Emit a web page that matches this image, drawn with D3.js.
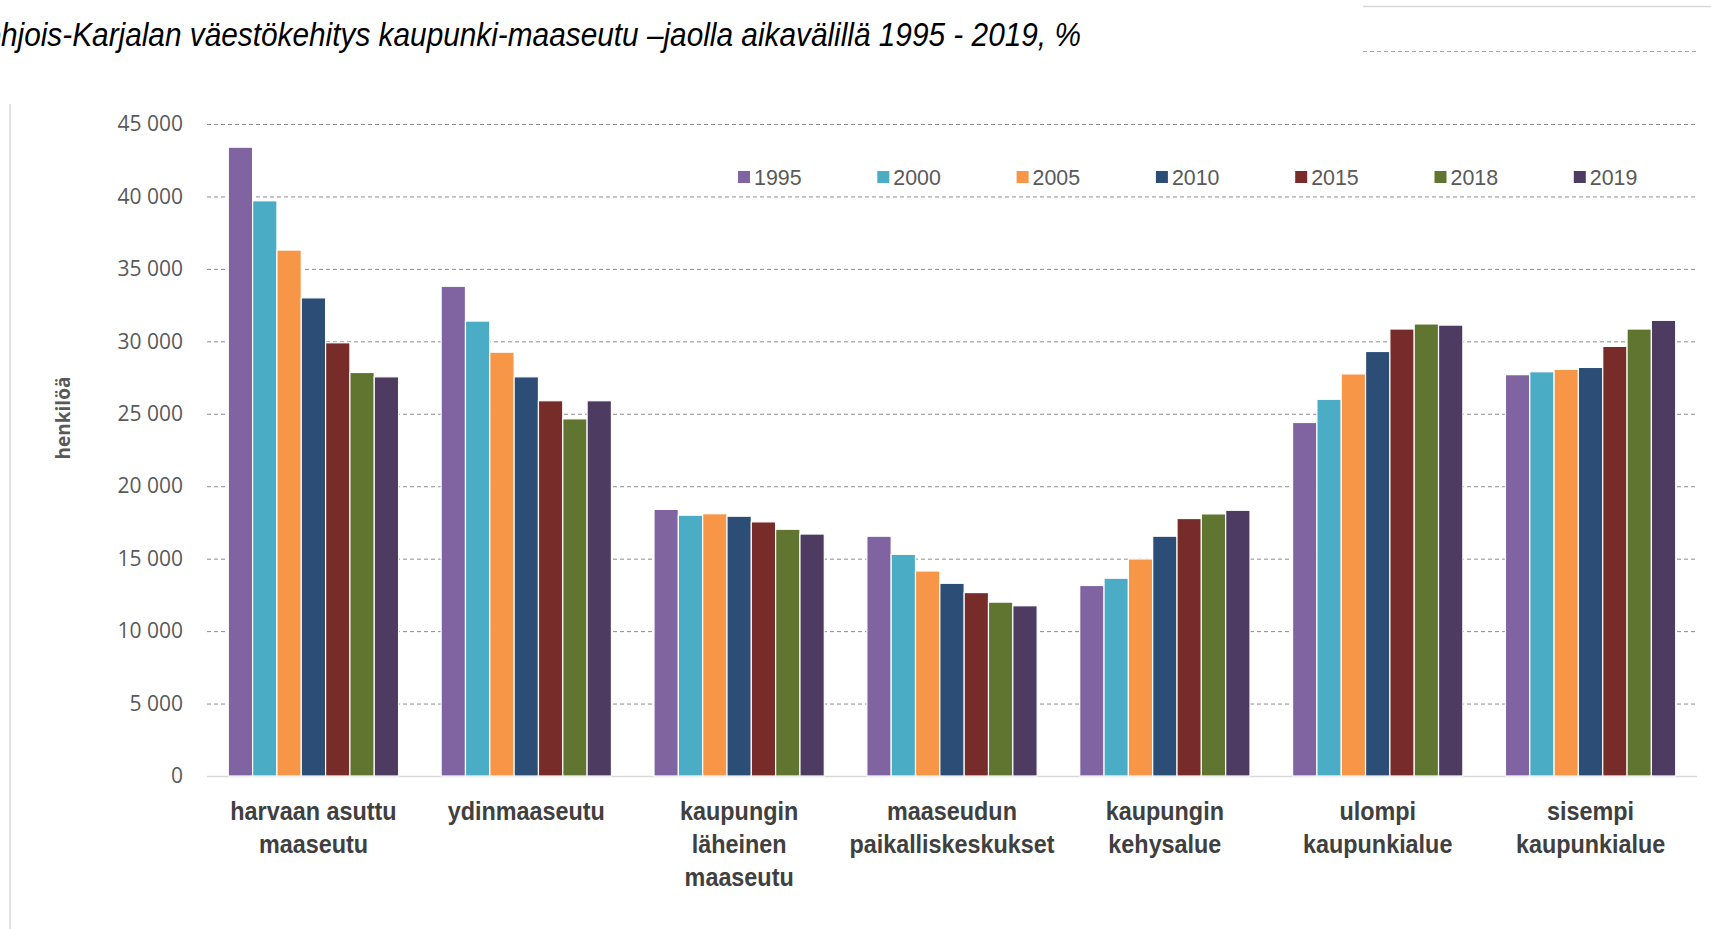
<!DOCTYPE html>
<html>
<head>
<meta charset="utf-8">
<script src="https://cdn.jsdelivr.net/npm/d3@7"></script>
<style>
  body { margin: 0; background: #fff; }
  svg { display: block; }
  .tick-label { font-family: 'Open Sans', sans-serif; font-size: 21px; fill: #595959; }
  .cat-label { font-family: 'Liberation Sans', Arial, sans-serif; font-weight: bold; font-size: 25px; fill: #404040; }
  .legend-label { font-family: 'Liberation Sans', Arial, sans-serif; font-size: 23px; fill: #595959; }
  .title { font-family: 'Liberation Sans', Arial, sans-serif; font-style: italic; font-size: 33px; fill: #000; }
  .axis-label { font-family: 'Open Sans', sans-serif; font-weight: bold; font-size: 19px; fill: #595959; }
</style>
</head>
<body>
<svg width="1711" height="929"></svg>
<script>
const categories = [
  ['harvaan asuttu', 'maaseutu'],
  ['ydinmaaseutu'],
  ['kaupungin', 'läheinen', 'maaseutu'],
  ['maaseudun', 'paikalliskeskukset'],
  ['kaupungin', 'kehysalue'],
  ['ulompi', 'kaupunkialue'],
  ['sisempi', 'kaupunkialue']
];
const years = ['1995', '2000', '2005', '2010', '2015', '2018', '2019'];
const colors = ['#8064A2', '#4BACC6', '#F79646', '#2C4D75', '#772C2A', '#5F7530', '#4D3B62'];

// one array per year, values in category order
const v1995 = [43400, 33800, 18400, 16550, 13150, 24400, 27700];
const v2000 = [39700, 31400, 18000, 15300, 13650, 26000, 27900];
const v2005 = [36300, 29250, 18100, 14150, 14980, 27750, 28070];
const v2010 = [33000, 27550, 17930, 13300, 16550, 29300, 28200];
const v2015 = [29900, 25900, 17540, 12660, 17770, 30850, 29650];
const v2018 = [27850, 24650, 17030, 12000, 18090, 31200, 30850];
const v2019 = [27550, 25900, 16700, 11750, 18340, 31120, 31450];
const seriesValues = [v1995, v2000, v2005, v2010, v2015, v2018, v2019];

const yTicks = [0, 5000, 10000, 15000, 20000, 25000, 30000, 35000, 40000, 45000];

const svg = d3.select('svg');
const width = +svg.attr('width');
const height = +svg.attr('height');

const margin = {top: 124, right: 14, bottom: 153, left: 207};
const innerWidth = width - margin.left - margin.right;
const innerHeight = height - margin.top - margin.bottom;

const catIdx = d3.range(categories.length);

const xScale = d3.scaleBand()
  .domain(catIdx)
  .range([0, innerWidth])
  .paddingInner(0.2)
  .paddingOuter(0.1);

const xInner = d3.scaleBand()
  .domain(years)
  .range([0, xScale.bandwidth()]);

const yScale = d3.scaleLinear()
  .domain([0, 45000])
  .range([innerHeight, 0]);

// decoration lines
svg.append('line')
  .attr('x1', 10).attr('x2', 10).attr('y1', 104).attr('y2', height)
  .attr('stroke', '#d9d9d9').attr('stroke-width', 1.5);
svg.append('line')
  .attr('x1', 1363).attr('x2', width).attr('y1', 6.5).attr('y2', 6.5)
  .attr('stroke', '#d9d9d9').attr('stroke-width', 1.5);
svg.append('line')
  .attr('x1', 1363).attr('x2', 1697).attr('y1', 51.5).attr('y2', 51.5)
  .attr('stroke', '#a6a6a6').attr('stroke-width', 1.2).attr('stroke-dasharray', '4,3');

// title: narrow italic look, start of the line runs off the left edge
const title = svg.append('text')
  .attr('class', 'title')
  .attr('x', 0)
  .attr('y', 0)
  .text('Pohjois-Karjalan väestökehitys kaupunki-maaseutu –jaolla aikavälillä 1995 - 2019, %');
const tNode = title.node();
const fullW = tNode.getComputedTextLength();
const cutW = tNode.getSubStringLength(0, 2);
const sx = 1080 / (fullW - cutW);
title.attr('transform', `translate(${-cutW * sx + 1},46) scale(${sx},1)`);

const g = svg.append('g')
  .attr('transform', `translate(${margin.left},${margin.top})`);

// y axis with dashed grid
const yAxis = d3.axisLeft(yScale)
  .tickValues(yTicks)
  .tickSize(-innerWidth)
  .tickPadding(24)
  .tickFormat(d => d3.format(',')(d).replace(',', ' '));

const yAxisG = g.append('g').call(yAxis);
yAxisG.select('.domain').remove();
yAxisG.selectAll('.tick line')
  .attr('stroke', d => d === 0 ? '#d9d9d9' : '#8c8c8c')
  .attr('stroke-width', d => d === 0 ? 1.5 : 1)
  .attr('stroke-dasharray', d => d === 0 ? null : '4,3');
yAxisG.selectAll('.tick text')
  .attr('class', 'tick-label')
  .attr('fill', null);

yAxisG.append('text')
  .attr('class', 'axis-label')
  .attr('transform', 'rotate(-90)')
  .attr('x', -294)
  .attr('y', -137)
  .attr('text-anchor', 'middle')
  .text('henkilöä');

// bars
const groups = g.selectAll('.cat')
  .data(catIdx)
  .enter().append('g')
  .attr('class', 'cat')
  .attr('transform', i => `translate(${xScale(i)},0)`);

groups.selectAll('rect')
  .data(i => years.map((y, s) => ({year: y, s, value: seriesValues[s][i]})))
  .enter().append('rect')
  .attr('x', d => xInner(d.year))
  .attr('width', xInner.bandwidth())
  .attr('y', d => yScale(d.value))
  .attr('height', d => innerHeight - yScale(d.value))
  .attr('fill', d => colors[d.s])
  .attr('stroke', '#fff')
  .attr('stroke-width', 1.2);

// category labels, squeezed horizontally
const catLabels = g.selectAll('.cat-label')
  .data(catIdx)
  .enter().append('text')
  .attr('class', 'cat-label')
  .attr('text-anchor', 'middle')
  .attr('transform', i => `translate(${xScale(i) + xScale.bandwidth() / 2},${innerHeight + 44}) scale(0.935,1)`);

catLabels.selectAll('tspan')
  .data(i => categories[i])
  .enter().append('tspan')
  .attr('x', 0)
  .attr('dy', (d, k) => k === 0 ? 0 : 33)
  .text(d => d);

// legend
const legend = svg.append('g')
  .attr('transform', 'translate(738,177)');

const legendItems = legend.selectAll('g')
  .data(years)
  .enter().append('g')
  .attr('transform', (d, k) => `translate(${k * 139.3},0)`);

legendItems.append('rect')
  .attr('x', 0).attr('y', -6)
  .attr('width', 12).attr('height', 12)
  .attr('fill', (d, k) => colors[k]);

legendItems.append('text')
  .attr('class', 'legend-label')
  .attr('transform', 'translate(16,8) scale(0.93,1)')
  .text(d => d);

// source note, mostly below the visible area
svg.append('text')
  .attr('x', 1593)
  .attr('y', 942)
  .style('font-family', "'Open Sans', sans-serif")
  .style('font-size', '16px')
  .attr('fill', '#404040')
  .text('Lähde: SVT');
</script>
</body>
</html>
